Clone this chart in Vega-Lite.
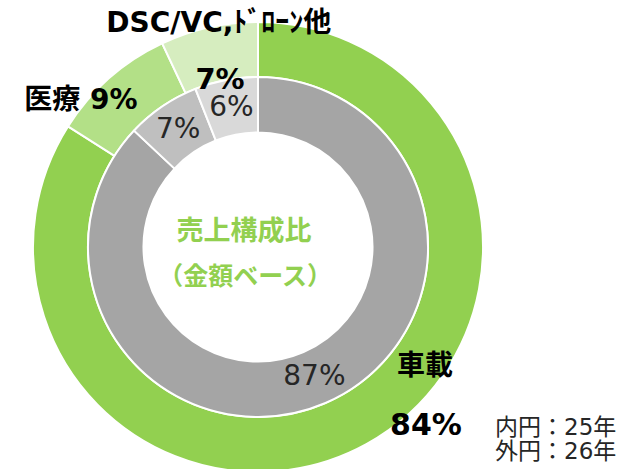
{
  "$schema": "https://vega.github.io/schema/vega-lite/v6.json",
  "autosize": "none",
  "width": 516,
  "height": 444,
  "padding": {"left": 0, "top": 25, "right": 107, "bottom": 0},
  "background": "white",
  "config": {"view": {"stroke": null}, "font": "DejaVu Sans, Noto Sans CJK JP"},
  "datasets": {
    "outer": [
      {"区分": "車載", "値": 84, "順": 1, "比率": "84%"},
      {"区分": "医療", "値": 9, "順": 2, "比率": "9%"},
      {"区分": "DSC/VC,ﾄﾞﾛｰﾝ他", "値": 7, "順": 3, "比率": "7%"}
    ],
    "inner": [
      {"区分": "車載", "値": 87, "順": 1, "比率": "87%"},
      {"区分": "医療", "値": 7, "順": 2, "比率": "7%"},
      {"区分": "DSC/VC,ﾄﾞﾛｰﾝ他", "値": 6, "順": 3, "比率": "6%"}
    ],
    "notes": [
      {"注記": "売上構成比"},
      {"注記": "（金額ベース）"},
      {"注記": "内円：25年"},
      {"注記": "外円：26年"}
    ]
  },
  "layer": [
    {
      "data": {"name": "outer"},
      "mark": {"type": "arc", "outerRadius": 225, "innerRadius": 170, "stroke": "white", "strokeWidth": 2},
      "encoding": {
        "theta": {"field": "値", "type": "quantitative", "stack": true, "scale": {"domain": [0, 100]}},
        "order": {"field": "順", "type": "quantitative", "sort": "ascending"},
        "color": {"field": "区分", "type": "nominal", "legend": null,
          "scale": {"domain": ["車載", "医療", "DSC/VC,ﾄﾞﾛｰﾝ他"], "range": ["#92D050", "#B3E087", "#D6EDBF"]}}
      }
    },
    {
      "data": {"name": "inner"},
      "mark": {"type": "arc", "outerRadius": 170, "innerRadius": 114.5, "stroke": "white", "strokeWidth": 2},
      "encoding": {
        "theta": {"field": "値", "type": "quantitative", "stack": true, "scale": {"domain": [0, 100]}},
        "order": {"field": "順", "type": "quantitative", "sort": "ascending"},
        "fill": {"field": "区分", "type": "nominal", "legend": null,
          "scale": {"domain": ["車載", "医療", "DSC/VC,ﾄﾞﾛｰﾝ他"], "range": ["#A5A5A5", "#BFBFBF", "#D9D9D9"]}}
      }
    },
    {
      "data": {"name": "inner"},
      "mark": {"type": "text", "radius": 142, "fontSize": 28, "color": "#262626", "align": "center", "baseline": "middle"},
      "encoding": {
        "theta": {"field": "値", "type": "quantitative", "stack": true, "scale": {"domain": [0, 100]}},
        "order": {"field": "順", "type": "quantitative", "sort": "ascending"},
        "text": {"field": "比率", "type": "nominal"}
      }
    },
    {
      "data": {"name": "outer"},
      "mark": {"type": "text", "radius": 230, "dx": 11, "dy": 1, "fontSize": 28, "fontWeight": "bold", "color": "black", "align": "center", "baseline": "middle"},
      "encoding": {
        "theta": {"field": "値", "type": "quantitative", "stack": true, "scale": {"domain": [0, 100]}},
        "order": {"field": "順", "type": "quantitative", "sort": "ascending"},
        "text": {"condition": {"test": "datum['順'] === 3", "field": "区分"}, "value": ""}
      }
    },
    {
      "data": {"name": "outer"},
      "mark": {"type": "text", "radius": 174, "dy": 3, "fontSize": 29, "fontWeight": "bold", "color": "black", "align": "center", "baseline": "middle"},
      "encoding": {
        "theta": {"field": "値", "type": "quantitative", "stack": true, "scale": {"domain": [0, 100]}},
        "order": {"field": "順", "type": "quantitative", "sort": "ascending"},
        "text": {"condition": {"test": "datum['順'] === 3", "field": "比率"}, "value": ""}
      }
    },
    {
      "data": {"name": "outer"},
      "mark": {"type": "text", "radius": 233, "dx": -23, "dy": 29, "fontSize": 28, "fontWeight": "bold", "color": "black", "align": "center", "baseline": "middle"},
      "encoding": {
        "theta": {"field": "値", "type": "quantitative", "stack": true, "scale": {"domain": [0, 100]}},
        "order": {"field": "順", "type": "quantitative", "sort": "ascending"},
        "text": {"condition": {"test": "datum['順'] === 2", "value": "医療 9%"}, "value": ""}
      }
    },
    {
      "data": {"name": "outer"},
      "mark": {"type": "text", "radius": 224, "dx": 59, "dy": -76, "fontSize": 28, "fontWeight": "bold", "color": "black", "align": "center", "baseline": "middle"},
      "encoding": {
        "theta": {"field": "値", "type": "quantitative", "stack": true, "scale": {"domain": [0, 100]}},
        "order": {"field": "順", "type": "quantitative", "sort": "ascending"},
        "text": {"condition": {"test": "datum['順'] === 1", "field": "区分"}, "value": ""}
      }
    },
    {
      "data": {"name": "outer"},
      "mark": {"type": "text", "radius": 224, "dx": 60, "dy": -17, "fontSize": 30, "fontWeight": "bold", "color": "black", "align": "center", "baseline": "middle"},
      "encoding": {
        "theta": {"field": "値", "type": "quantitative", "stack": true, "scale": {"domain": [0, 100]}},
        "order": {"field": "順", "type": "quantitative", "sort": "ascending"},
        "text": {"condition": {"test": "datum['順'] === 1", "field": "比率"}, "value": ""}
      }
    },
    {
      "data": {"name": "notes"},
      "transform": [{"filter": "datum['注記'] === '売上構成比'"}],
      "mark": {"type": "text", "dx": -14, "dy": -15, "fontSize": 27, "fontWeight": "bold", "color": "#92D050", "align": "center", "baseline": "middle", "font": "Noto Sans CJK JP"},
      "encoding": {"text": {"field": "注記", "type": "nominal"}}
    },
    {
      "data": {"name": "notes"},
      "transform": [{"filter": "datum['注記'] === '（金額ベース）'"}],
      "mark": {"type": "text", "dx": -13, "dy": 30, "fontSize": 25, "fontWeight": "bold", "color": "#92D050", "align": "center", "baseline": "middle", "font": "Noto Sans CJK JP"},
      "encoding": {"text": {"field": "注記", "type": "nominal"}}
    },
    {
      "data": {"name": "notes"},
      "transform": [{"filter": "datum['注記'] === '内円：25年'"}],
      "mark": {"type": "text", "dx": 237, "dy": 181, "fontSize": 23, "color": "#262626", "align": "left", "baseline": "middle"},
      "encoding": {"text": {"field": "注記", "type": "nominal"}}
    },
    {
      "data": {"name": "notes"},
      "transform": [{"filter": "datum['注記'] === '外円：26年'"}],
      "mark": {"type": "text", "dx": 237, "dy": 205, "fontSize": 23, "color": "#262626", "align": "left", "baseline": "middle"},
      "encoding": {"text": {"field": "注記", "type": "nominal"}}
    }
  ],
  "resolve": {"scale": {"color": "independent", "fill": "independent"}}
}
